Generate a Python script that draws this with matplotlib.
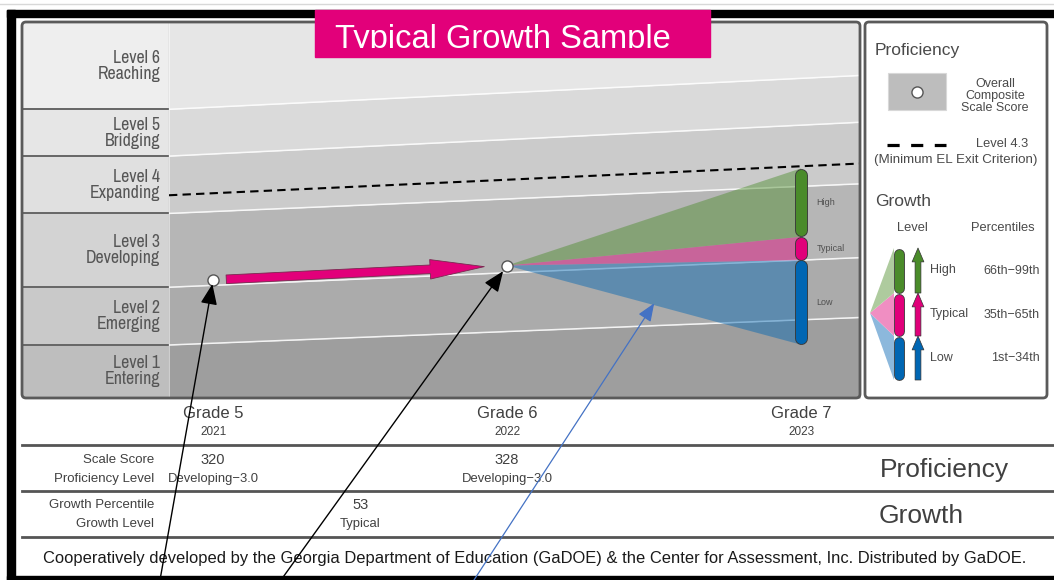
import numpy as np
import matplotlib
matplotlib.use('Agg')
import matplotlib.pyplot as plt
import matplotlib.patheffects as pe
from matplotlib import font_manager
from matplotlib.patches import FancyBboxPatch, Rectangle, Polygon, FancyArrowPatch
from matplotlib.lines import Line2D
from matplotlib.transforms import Affine2D, Bbox, TransformedBbox, blended_transform_factory

# ---- data ----
grades = [5, 6, 7]
years = ['2021', '2022', '2023']
level_names = ['Entering', 'Emerging', 'Developing', 'Expanding', 'Bridging', 'Reaching']

# lower cut score of levels 2..6 for each grade
cut_l2 = [285, 291, 298]
cut_l3 = [317, 324, 331]
cut_l4 = [358, 365, 372]
cut_l5 = [390, 398, 406]
cut_l6 = [416, 424, 432]
exit_43 = [368, 376, 383]   # level 4.3, minimum EL exit criterion

student_grades = [5, 6]
scale_scores = [320, 328]
prof_levels = ['Developing\u22123.0', 'Developing\u22123.0']
growth_percentile = 53
growth_level = 'Typical'

growth_names = ['Low', 'Typical', 'High']
growth_pct = ['1st\u221234th', '35th\u221265th', '66th\u221299th']
growth_lo = [284, 331, 344]   # projected grade 7 scale score ranges
growth_hi = [331, 344, 382]

band_colors = ['#9e9e9e', '#ababab', '#b6b6b6', '#cbcbcb', '#dadada', '#e6e6e6']
label_colors = ['#bebebe', '#c9c9c9', '#d3d3d3', '#e0e0e0', '#e6e6e6', '#eeeeee']
growth_colors = ['#0066b3', '#e0007a', '#4a8b2a']
cone_light = ['#8cb8dc', '#f08ec2', '#aecb9e']
magenta = '#e2007a'

SANS = ['Liberation Sans', 'DejaVu Sans']
plt.rcParams['font.family'] = SANS

# look for a narrow face for the level labels (narrow first, then condensed)
narrow_path, narrow_k = None, 0.83
for key, k in [('narrow', 1.0), ('condensed', 0.84)]:
    for f in font_manager.fontManager.ttflist:
        tag = (f.name + ' ' + f.fname).lower()
        if key in tag and f.style == 'normal' and f.weight in (400, 'normal', 'regular', 'book') \
                and 'mono' not in tag and 'serif' not in tag.replace('sans', ''):
            narrow_path, narrow_k = f.fname, k
            break
    if narrow_path:
        break


def narrow(size):
    if narrow_path:
        return {'fontproperties': font_manager.FontProperties(fname=narrow_path, size=size * narrow_k)}
    return {'family': SANS, 'fontsize': size * narrow_k}


W, H = 1054, 580
fig = plt.figure(figsize=(W / 100, H / 100), dpi=100)
PX = Affine2D().scale(1 / W, -1 / H).translate(0, 1) + fig.transFigure


def px_axes(x0, y0, x1, y1, **kw):
    a = fig.add_axes([x0 / W, 1 - y1 / H, (x1 - x0) / W, (y1 - y0) / H], **kw)
    a.axis('off')
    return a


def line_at(vals, x):
    fit = np.polyfit(grades, vals, 1)
    return np.polyval(fit, x)


# ---- main chart ----
ax = px_axes(169, 22, 860, 398)
ax.set_xlim(4.85, 7.2)
ax.set_ylim(254.4, 463.3)
xs = np.array(ax.get_xlim())
y0, y1 = ax.get_ylim()
cuts = [cut_l2, cut_l3, cut_l4, cut_l5, cut_l6]
bounds = [np.full(2, y0)] + [line_at(c, xs) for c in cuts] + [np.full(2, y1)]
for i in range(6):
    ax.fill_between(xs, bounds[i], bounds[i + 1], color=band_colors[i], lw=0)
for b in bounds[1:-1]:
    ax.plot(xs, b, color='white', lw=1.1, alpha=0.85, zorder=2)
ax.plot(xs, line_at(exit_43, xs), color='black', lw=1.5, dashes=(4, 2.5), zorder=8)

# growth cone from last score to next grade
gx, gy = student_grades[-1], scale_scores[-1]
nxt = grades[-1]
for lo, hi, c in zip(growth_lo, growth_hi, growth_colors):
    ax.fill([gx, nxt, nxt], [gy, lo, hi], color=c, alpha=0.45, lw=0, zorder=3)

ppu = 376 / (y1 - y0)   # pixels per score point
r = 6.3 / ppu
for lo, hi, c, name in zip(growth_lo, growth_hi, growth_colors, growth_names):
    ax.plot([nxt, nxt], [lo + r, hi - r], color=c, lw=8, solid_capstyle='round', zorder=5,
            path_effects=[pe.Stroke(linewidth=9.3, foreground='#3a3a3a'), pe.Normal()])
    ax.annotate(name, xy=(nxt, (lo + hi) / 2), xytext=(11, 0), textcoords='offset points',
                ha='left', va='center', color='#505050', fontsize=6.5)

arrow = FancyArrowPatch((student_grades[0], scale_scores[0]), (gx, gy),
                        arrowstyle='simple,head_length=3.9,head_width=1.4,tail_width=0.62',
                        mutation_scale=10, shrinkA=9.5, shrinkB=16.5,
                        fc=magenta, ec='#7a2850', lw=0.6, zorder=6)
ax.add_patch(arrow)
ax.plot(student_grades, scale_scores, 'o', ms=8, mfc='white', mec='#555555', mew=1, zorder=9)

# ---- level label column ----
lax = px_axes(22, 22, 169, 398)
lax.set_xlim(0, 1)
lax.set_ylim(y0, y1)
lb = [y0] + [line_at(c, xs[0]) for c in cuts] + [y1]
for i in range(6):
    lax.axhspan(lb[i], lb[i + 1], color=label_colors[i], lw=0)
    lax.text(0.94, (lb[i] + lb[i + 1]) / 2, f'Level {i + 1}\n{level_names[i]}', ha='right',
             va='center', color='#565656', linespacing=1.0, **narrow(12.8))
for b in lb[1:-1]:
    lax.axhline(b, color='#666666', lw=1.4)
lax.axvline(1, color='#c4c4c4', lw=1)

# ---- frame, panels, title ----
fig.add_artist(Line2D([0, W], [4, 4], transform=PX, color='#d8d8d8', lw=1))
for rect in [(7, 10, W - 7, 7), (7, 10, 8, H - 10), (7, 576, W - 7, 4)]:
    fig.add_artist(Rectangle(rect[:2], rect[2], rect[3], transform=PX, color='black', zorder=1))
fig.add_artist(FancyBboxPatch((22, 22), 838, 376, boxstyle='round,pad=0,rounding_size=4',
                              transform=PX, fc='none', ec='#5a5a5a', lw=2, zorder=2))
fig.add_artist(FancyBboxPatch((865, 22), 182, 376, boxstyle='round,pad=0,rounding_size=4',
                              transform=PX, fc='white', ec='#5a5a5a', lw=2, zorder=2))
fig.add_artist(Rectangle((315, 10), 395, 47, transform=PX, color=magenta, zorder=4))
t = fig.text(503, 48, 'Typical Growth Sample', transform=PX, ha='center', va='baseline',
             fontsize=23.5, color='white', zorder=5)
t.set_clip_box(TransformedBbox(Bbox([[315, 10], [710, 48]]), PX))

# ---- legend panel ----
def ltext(x, y, s, **kw):
    kw.setdefault('color', '#4a4a4a')
    kw.setdefault('va', 'center')
    return fig.text(x, y, s, transform=PX, zorder=6, **kw)

ltext(875, 51, 'Proficiency', fontsize=12.5, ha='left')
fig.add_artist(Rectangle((888, 73), 58, 37, transform=PX, fc='#bdbdbd', ec='#d8d8d8', lw=0.8, zorder=3))
fig.add_artist(Line2D([917], [92], transform=PX, marker='o', ms=8, mfc='white', mec='#555555', mew=1, zorder=4))
ltext(995, 96, 'Overall\nComposite\nScale Score', fontsize=9, ha='center', linespacing=0.95)
fig.add_artist(Line2D([887, 946], [145, 145], transform=PX, color='black', lw=2.3,
                      dashes=(3.8, 3.6), zorder=4))
ltext(1002, 144, 'Level 4.3', fontsize=9.3, ha='center')
ltext(956, 160, '(Minimum EL Exit Criterion)', fontsize=9.6, ha='center')
ltext(875, 202, 'Growth', fontsize=12.5, ha='left')
ltext(912, 228, 'Level', fontsize=9.3, ha='center')
ltext(1003, 228, 'Percentiles', fontsize=9.3, ha='center')

leg_lo = [380, 336, 293]
leg_hi = [336, 293, 248]
for lo, hi, c, cl, name, pct in zip(leg_lo, leg_hi, growth_colors, cone_light, growth_names, growth_pct):
    fig.add_artist(Polygon([(870, 313), (894, lo), (894, hi)], closed=True, transform=PX,
                           fc=cl, ec='none', zorder=3))
    fig.add_artist(Line2D([899, 899], [lo - 5.5, hi + 5.5], transform=PX, color=c, lw=6.6,
                          solid_capstyle='round', zorder=4,
                          path_effects=[pe.Stroke(linewidth=7.8, foreground='#3a3a3a'), pe.Normal()]))
    fig.add_artist(FancyArrowPatch((918, lo), (918, hi), transform=PX,
                                   arrowstyle='simple,head_length=1.0,head_width=0.85,tail_width=0.42',
                                   mutation_scale=10, shrinkA=0, shrinkB=0,
                                   fc=c, ec='#333333', lw=0.5, zorder=4))
    ltext(930, (lo + hi) / 2, name, fontsize=9, ha='left')
    ltext(1040, (lo + hi) / 2, pct, fontsize=9, ha='right')

# ---- bottom table ----
BT = blended_transform_factory(ax.transData, PX)
for g, yr in zip(grades, years):
    fig.text(g, 414, f'Grade {g}', transform=BT, ha='center', va='center', fontsize=12, color='#404040')
    fig.text(g, 432, yr, transform=BT, ha='center', va='center', fontsize=8.5, color='#404040')

for yy in [445, 491, 537]:
    fig.add_artist(Line2D([22, W], [yy, yy], transform=PX, color='#555555', lw=2, zorder=2))

for s, yy in [('Scale Score', 460), ('Proficiency Level', 479),
              ('Growth Percentile', 505), ('Growth Level', 524)]:
    fig.text(154, yy, s, transform=PX, ha='right', va='center', fontsize=9.5, color='#404040')
for g, sc, pl in zip(student_grades, scale_scores, prof_levels):
    fig.text(g, 460, str(sc), transform=BT, ha='center', va='center', fontsize=10.5, color='#404040')
    fig.text(g, 479, pl, transform=BT, ha='center', va='center', fontsize=9.4, color='#404040')
gmid = np.mean(student_grades)
fig.text(gmid, 505, str(growth_percentile), transform=BT, ha='center', va='center', fontsize=10.5, color='#404040')
fig.text(gmid, 524, growth_level, transform=BT, ha='center', va='center', fontsize=9.4, color='#404040')

fig.text(944, 470, 'Proficiency', transform=PX, ha='center', va='center', fontsize=19, color='#404040')
fig.text(879, 516, 'Growth', transform=PX, ha='left', va='center', fontsize=19, color='#404040')
fig.text(535, 558, 'Cooperatively developed by the Georgia Department of Education (GaDOE) & the '
         'Center for Assessment, Inc. Distributed by GaDOE.', transform=PX, ha='center',
         va='center', fontsize=11.9, color='#1a1a1a')

# ---- pointer arrows overlay (pixel coords) ----
ov = fig.add_axes([0, 0, 1, 1], zorder=20)
ov.axis('off')
ov.set_xlim(0, W)
ov.set_ylim(H, 0)
head = '-|>,head_length=0.42,head_width=0.17'
ov.annotate('', xy=(student_grades[0], scale_scores[0]), xycoords=ax.transData,
            xytext=(160, 580), textcoords='data', annotation_clip=False,
            arrowprops=dict(arrowstyle=head, mutation_scale=30, color='black', lw=1,
                            shrinkA=0, shrinkB=3))
ov.annotate('', xy=(gx, gy), xycoords=ax.transData,
            xytext=(281, 580), textcoords='data', annotation_clip=False,
            arrowprops=dict(arrowstyle=head, mutation_scale=30, color='black', lw=1,
                            shrinkA=0, shrinkB=5))
ov.annotate('', xy=((gx + nxt) / 2, (gy + growth_lo[0]) / 2 + 1), xycoords=ax.transData,
            xytext=(474, 580), textcoords='data', annotation_clip=False,
            arrowprops=dict(arrowstyle=head, mutation_scale=26, color='#4472c4', lw=0.9,
                            shrinkA=0, shrinkB=0))

fig.savefig('out.png', dpi=100)
